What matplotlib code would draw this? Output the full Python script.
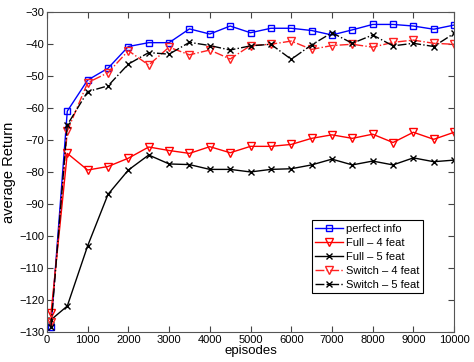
import numpy as np
import matplotlib
matplotlib.use('Agg')
import matplotlib.pyplot as plt

plt.rcParams['font.family'] = ['Liberation Sans', 'DejaVu Sans']

# episodes at which each curve was evaluated
episodes = [100, 500, 1000, 1500, 2000, 2500, 3000, 3500, 4000, 4500, 5000,
            5500, 6000, 6500, 7000, 7500, 8000, 8500, 9000, 9500, 10000]

perfect_info = [-128.3, -61.0, -51.3, -47.6, -40.8, -39.6, -39.6, -35.3, -36.9, -34.4, -36.5,
                -35.1, -35.1, -35.8, -37.2, -35.6, -33.9, -33.9, -34.4, -35.4, -34.1]
full_4 = [-124.2, -74.2, -79.4, -78.3, -75.7, -72.2, -73.3, -74.2, -72.1, -74.0, -72.0,
          -72.0, -71.4, -69.5, -68.4, -69.5, -68.2, -70.8, -67.6, -69.8, -67.6]
full_5 = [-126.2, -121.9, -103.1, -87.0, -79.4, -74.7, -77.5, -77.7, -79.2, -79.2, -80.0,
          -79.2, -79.0, -77.8, -76.0, -77.8, -76.6, -77.8, -75.6, -76.8, -76.3]
switch_4 = [-127.0, -67.2, -52.1, -49.0, -42.1, -46.6, -41.0, -43.4, -41.9, -44.7, -40.5,
            -40.1, -39.1, -41.7, -40.5, -40.1, -41.0, -39.5, -38.8, -39.8, -40.1]
switch_5 = [-128.3, -65.3, -54.9, -53.1, -46.3, -42.7, -43.2, -39.5, -40.5, -41.9, -40.6,
            -40.1, -44.8, -40.3, -36.5, -39.8, -37.2, -40.6, -39.8, -40.8, -36.7]

fig = plt.figure(figsize=(4.74, 3.62), dpi=100)
ax = fig.add_axes([0.099, 0.083, 0.859, 0.884])

ax.plot(episodes, perfect_info, '-s', color='#0000ff', lw=1, ms=5, mfc='none', mew=1, label='perfect info')
ax.plot(episodes, full_4, '-v', color='#ff0000', lw=1, ms=6, mfc='none', mew=1, label='Full \u2013 4 feat')
ax.plot(episodes, full_5, '-x', color='black', lw=1, ms=5, mew=1, label='Full \u2013 5 feat')
ax.plot(episodes, switch_4, '-.v', color='#ff2020', lw=1, ms=6, mfc='none', mew=1, label='Switch \u2013 4 feat')
ax.plot(episodes, switch_5, '-.x', color='black', lw=1, ms=5, mew=1, label='Switch \u2013 5 feat')

ax.set_xlim(0, 10000)
ax.set_ylim(-130, -30)
ax.set_xticks(np.arange(0, 10001, 1000))
ax.set_yticks(np.arange(-130, -29, 10))
ax.tick_params(direction='in', top=True, right=True, labelsize=8, length=4, pad=2, color='#444444')
for s in ax.spines.values():
    s.set_color('#555555')

ax.set_xlabel('episodes', fontsize=9.5, labelpad=0)
ax.set_ylabel('average Return', fontsize=10.5, labelpad=2)

leg = ax.legend(loc='lower right', bbox_to_anchor=(0.924, 0.122), fontsize=8,
                fancybox=False, edgecolor='black', framealpha=1, borderaxespad=0,
                handlelength=2.5, labelspacing=0.36, borderpad=0.3, handletextpad=0.3)
leg.get_frame().set_linewidth(0.8)

fig.savefig('out.png', dpi=100)
